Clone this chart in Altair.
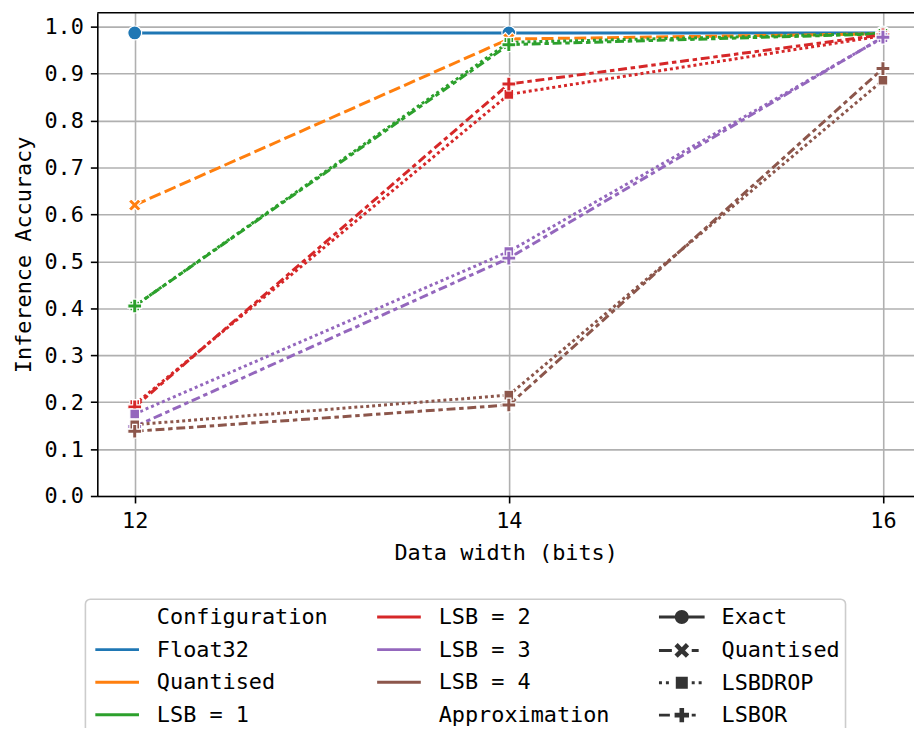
import math
import altair as alt
import pandas as pd

# ---------------- data ----------------
bits = [12, 14, 16]
y_ticks = [0.0, 0.1, 0.2, 0.3, 0.4, 0.5, 0.6, 0.7, 0.8, 0.9, 1.0]

config_order = ["Float32", "Quantised", "LSB = 1", "LSB = 2", "LSB = 3", "LSB = 4"]
config_colors = ["#1f77b4", "#ff7f0e", "#2ca02c", "#d62728", "#9467bd", "#8c564b"]
approx_order = ["Exact", "Quantised", "LSBDROP", "LSBOR"]

float32_exact = [0.987, 0.987, 0.987]
quantised_quantised = [0.620, 0.974, 0.985]
lsb1_lsbdrop = [0.405, 0.967, 0.986]
lsb1_lsbor = [0.405, 0.962, 0.985]
lsb2_lsbdrop = [0.195, 0.856, 0.981]
lsb2_lsbor = [0.190, 0.878, 0.983]
lsb3_lsbdrop = [0.175, 0.521, 0.977]
lsb3_lsbor = [0.148, 0.507, 0.978]
lsb4_lsbdrop = [0.152, 0.215, 0.886]
lsb4_lsbor = [0.138, 0.194, 0.911]

series = [
    ("Float32", "Exact", float32_exact),
    ("Quantised", "Quantised", quantised_quantised),
    ("LSB = 1", "LSBDROP", lsb1_lsbdrop),
    ("LSB = 1", "LSBOR", lsb1_lsbor),
    ("LSB = 2", "LSBDROP", lsb2_lsbdrop),
    ("LSB = 2", "LSBOR", lsb2_lsbor),
    ("LSB = 3", "LSBDROP", lsb3_lsbdrop),
    ("LSB = 3", "LSBOR", lsb3_lsbor),
    ("LSB = 4", "LSBDROP", lsb4_lsbdrop),
    ("LSB = 4", "LSBOR", lsb4_lsbor),
]
rows = []
for cfg, apx, vals in series:
    for b, v in zip(bits, vals):
        rows.append({"config": cfg, "approx": apx, "bits": b, "acc": v})
df = pd.DataFrame(rows)
one = pd.DataFrame({"k": [0]})

# ---------------- symbol paths ----------------
def poly(pts):
    return "M" + "L".join(f"{x:.3f},{y:.3f}" for x, y in pts) + "Z"

def plus_pts(e, w):
    return [(-w, -e), (w, -e), (w, -w), (e, -w), (e, w), (w, w), (w, e), (-w, e),
            (-w, w), (-e, w), (-e, -w), (-w, -w)]

def rot45(pts):
    c = math.sqrt(0.5)
    return [((x - y) * c, (x + y) * c) for x, y in pts]

def circ(r):
    return f"M{r},0A{r},{r},0,1,1,{-r},0A{r},{r},0,1,1,{r},0Z"

def sq(h):
    return f"M{-h},{-h}H{h}V{h}H{-h}Z"

def bars(px_list, unit=11.0, half=1.5):
    t = half / unit
    return "".join(
        f"M{a/unit:.3f},{-t:.3f}H{b/unit:.3f}V{t:.3f}H{a/unit:.3f}Z" for a, b in px_list
    )

# plot markers (unit = 7 px at size 196)
marker_paths = ["circle", poly(rot45(plus_pts(1.0, 0.3))), sq(0.7), poly(plus_pts(1.0, 0.3))]

# legend handles (unit = 11 px at size 484): dashed line drawn as filled bars + marker
legend_paths = [
    bars([(-23, 23)]) + circ(0.64),
    bars([(-23, -10), (10, 17)]) + poly(rot45(plus_pts(0.74, 0.21))),
    bars([(-23, -20), (-16, -13), (10, 13), (17, 20)]) + sq(0.55),
    bars([(-23, -12), (10, 14)]) + poly(plus_pts(0.66, 0.21)),
]

W, H = 823, 487
FONT = "DejaVu Sans Mono"
FS = 22

x_enc = alt.X("bits:Q", scale=alt.Scale(domain=[11.8, 16.166], nice=False, zero=False),
              axis=alt.Axis(values=bits, format="d", title="Data width (bits)",
                            titlePadding=11, labelPadding=8))
y_enc = alt.Y("acc:Q", scale=alt.Scale(domain=[0, 1.03], nice=False, zero=False),
              axis=alt.Axis(values=y_ticks, format=".1f", title="Inference Accuracy",
                            titlePadding=9, labelPadding=7))

dash_scale = alt.Scale(domain=approx_order, range=[[1, 0], [12, 4.5], [3, 3], [9, 3.75, 4.5, 3.75]])

def leg(x, row_pad=8.8, **kw):
    return alt.Legend(orient="none", legendX=x, legendY=596.5, direction="vertical", title=None,
                      padding=0, offset=0, rowPadding=row_pad, labelOffset=27.5, symbolSize=484,
                      symbolStrokeWidth=3, labelFont=FONT, labelFontSize=FS, labelLimit=400,
                      labelColor="black", **kw)

stroke_sym = "M-2,0L2,0"
groupA = config_order[:3]
groupB = config_order[3:]

linesA = alt.Chart(df).transform_filter(
    alt.FieldOneOfPredicate(field="config", oneOf=groupA)
).mark_line(strokeWidth=3).encode(
    x=x_enc, y=y_enc,
    color=alt.Color("config:N",
                    scale=alt.Scale(domain=["Configuration"] + groupA,
                                    range=["transparent"] + config_colors[:3]),
                    legend=leg(7.5, symbolType=stroke_sym)),
    strokeDash=alt.StrokeDash("approx:N", scale=dash_scale, legend=None),
    order="bits:Q",
)

linesB = alt.Chart(df).transform_filter(
    alt.FieldOneOfPredicate(field="config", oneOf=groupB)
).mark_line(strokeWidth=3).encode(
    x=x_enc, y=y_enc,
    color=alt.Color("config:N",
                    scale=alt.Scale(domain=groupB + ["Approximation"],
                                    range=config_colors[3:] + ["transparent"]),
                    legend=leg(291.5, symbolType=stroke_sym)),
    strokeDash=alt.StrokeDash("approx:N", scale=dash_scale, legend=None),
    order="bits:Q",
)

points = alt.Chart(df).mark_point(filled=True, size=196, stroke="white", strokeWidth=1.2, opacity=1).encode(
    x=x_enc, y=y_enc,
    color=alt.Color("config:N", scale=alt.Scale(domain=config_order, range=config_colors), legend=None),
    shape=alt.Shape("approx:N", scale=alt.Scale(domain=approx_order, range=marker_paths), legend=None),
)

legend_c = alt.Chart(df).mark_point(filled=True, opacity=0, color="#333333", size=484).encode(
    x=x_enc, y=y_enc,
    shape=alt.Shape("approx:N", scale=alt.Scale(domain=approx_order, range=legend_paths),
                    legend=leg(576.5, row_pad=6.6, symbolOpacity=1, symbolFillColor="#333333",
                               symbolStrokeColor="transparent")),
)

frame = alt.Chart(one).mark_rect(fill="white", fillOpacity=0.8, stroke="#cccccc",
                                 strokeWidth=1.6, cornerRadius=5).encode(
    x=alt.value(-12), x2=alt.value(754), y=alt.value(591), y2=alt.value(745)
)

top_spine = alt.Chart(one).mark_rule(color="black", strokeWidth=1.6).encode(
    x=alt.value(0), x2=alt.value(W), y=alt.value(0)
)

chart = alt.layer(frame, linesA, linesB, points, legend_c, top_spine).resolve_scale(
    color="independent", shape="independent"
).properties(
    width=W, height=H,
    autosize=alt.AutoSizeParams(type="none"),
    padding={"left": 90, "top": 2, "right": 0, "bottom": 231},
    background="white",
).configure_axis(
    labelFont=FONT, labelFontSize=FS, labelColor="black",
    titleFont=FONT, titleFontSize=FS, titleColor="black", titleFontWeight="normal",
    domainColor="black", domainWidth=1.6, tickColor="black", tickWidth=1.6, tickSize=7,
    gridColor="#b0b0b0", gridWidth=1.6, grid=True, labelFlush=False,
).configure_view(strokeWidth=0)

chart.save("out.html", embed_options={"renderer": "svg", "actions": False})
